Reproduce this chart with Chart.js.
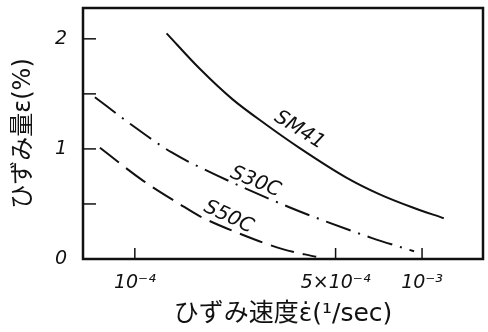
<!DOCTYPE html>
<html>
<head>
<meta charset="utf-8">
<script src="https://cdn.jsdelivr.net/npm/chart.js@4/dist/chart.umd.min.js"></script>
<style>
  html, body { margin: 0; padding: 0; background: #fff; }
  #wrap { width: 488px; height: 332px; }
</style>
</head>
<body>
<div id="wrap"><canvas id="c" width="488" height="332"></canvas></div>
<script>
// strain rate (1/sec) and strain (%) for each steel
const sm41Rate   = [1.29e-4, 1.68e-4, 2.19e-4, 2.87e-4, 3.74e-4, 5.45e-4, 7.09e-4, 9.23e-4, 1.19e-3];
const sm41Strain = [2.05, 1.73, 1.45, 1.22, 1.01, 0.74, 0.59, 0.47, 0.37];

const s30cRate   = [7.26e-5, 9.61e-5, 1.34e-4, 1.93e-4, 3.45e-4, 4.64e-4, 6.70e-4, 9.38e-4];
const s30cStrain = [1.47, 1.23, 0.97, 0.76, 0.47, 0.34, 0.19, 0.07];

const s50cRate   = [7.56e-5, 1.07e-4, 1.43e-4, 1.68e-4, 2.32e-4, 3.27e-4, 4.28e-4];
const s50cStrain = [1.01, 0.71, 0.50, 0.39, 0.23, 0.09, 0.02];

const seriesNames = ['SM41', 'S30C', 'S50C'];

const xTickValues = [1e-4, 5e-4, 1e-3];
const xTickLabels = ['10⁻⁴', '5×10⁻⁴', '10⁻³'];
const yTickLabels = {0: '0', 1: '1', 2: '2'};

// where each curve name sits, in data units, and its slant
const nameAt = [
  { x: 3.74e-4, y: 1.17, angle: 32 },
  { x: 2.63e-4, y: 0.70, angle: 22 },
  { x: 2.12e-4, y: 0.38, angle: 25 }
];

const toPoints = (xs, ys) => xs.map((x, i) => ({ x: x, y: ys[i] }));

const ink = '#111';
const handFont = 'italic 400 20px "DejaVu Sans", sans-serif';

// box frame, inward tick marks and curve names
const decorate = {
  id: 'decorate',
  afterDraw(chart) {
    const ctx = chart.ctx;
    const a = chart.chartArea;
    const xs = chart.scales.x, ys = chart.scales.y;
    ctx.save();
    ctx.strokeStyle = ink;
    ctx.lineWidth = 2.5;
    ctx.strokeRect(a.left, a.top, a.right - a.left, a.bottom - a.top);

    ctx.lineWidth = 1.5;
    ys.ticks.forEach(t => {
      if (t.value <= 0) return;
      const py = ys.getPixelForValue(t.value);
      ctx.beginPath();
      ctx.moveTo(a.left, py);
      ctx.lineTo(a.left + 13, py);
      ctx.stroke();
    });
    xs.ticks.forEach(t => {
      const px = xs.getPixelForValue(t.value);
      ctx.beginPath();
      ctx.moveTo(px, a.bottom);
      ctx.lineTo(px, a.bottom - 11);
      ctx.stroke();
    });

    ctx.fillStyle = ink;
    ctx.font = handFont;
    ctx.textAlign = 'center';
    ctx.textBaseline = 'middle';
    nameAt.forEach((n, i) => {
      const px = xs.getPixelForValue(n.x);
      const py = ys.getPixelForValue(n.y);
      ctx.save();
      ctx.translate(px, py);
      ctx.rotate(n.angle * Math.PI / 180);
      ctx.fillText(seriesNames[i], 0, 0);
      ctx.restore();
    });
    ctx.restore();
  }
};

const common = {
  borderColor: ink,
  borderWidth: 2,
  pointRadius: 0,
  fill: false,
  cubicInterpolationMode: 'monotone'
};

new Chart(document.getElementById('c'), {
  type: 'line',
  data: {
    datasets: [
      Object.assign({ label: seriesNames[0], data: toPoints(sm41Rate, sm41Strain) }, common),
      Object.assign({ label: seriesNames[1], data: toPoints(s30cRate, s30cStrain), borderDash: [26, 8, 2, 8] }, common),
      Object.assign({ label: seriesNames[2], data: toPoints(s50cRate, s50cStrain), borderDash: [24, 9] }, common)
    ]
  },
  options: {
    responsive: false,
    animation: false,
    layout: { padding: { top: 8, right: 5, left: 0, bottom: 0 } },
    plugins: { legend: { display: false }, tooltip: { enabled: false } },
    scales: {
      x: {
        type: 'logarithmic',
        min: 6.6e-5,
        max: 1.63e-3,
        border: { display: false },
        grid: { display: false, drawTicks: false },
        afterBuildTicks(scale) {
          scale.ticks = xTickValues.map(v => ({ value: v }));
        },
        afterFit(scale) {
          scale.height = 73;
          scale.paddingLeft = 0;
          scale.paddingRight = 0;
        },
        ticks: {
          autoSkip: false,
          maxRotation: 0,
          padding: 13,
          color: ink,
          font: { family: '"DejaVu Sans", sans-serif', size: 19, style: 'italic' },
          callback: (v, i) => xTickLabels[i]
        },
        title: {
          display: true,
          text: 'ひずみ速度ε̇(¹/sec)',
          color: ink,
          font: { family: '"DejaVu Sans", "Noto Sans CJK JP", sans-serif', size: 25 },
          padding: { top: 0, bottom: 3 }
        }
      },
      y: {
        min: 0,
        max: 2.28,
        border: { display: false },
        grid: { display: false, drawTicks: false },
        afterBuildTicks(scale) {
          scale.ticks = [0, 0.5, 1, 1.5, 2].map(v => ({ value: v }));
        },
        afterFit(scale) {
          scale.width = 83;
          scale.paddingTop = 0;
          scale.paddingBottom = 0;
        },
        ticks: {
          padding: 16,
          color: ink,
          font: { family: '"DejaVu Sans", sans-serif', size: 19, style: 'italic' },
          callback: v => (yTickLabels[v] !== undefined ? yTickLabels[v] : '')
        },
        title: {
          display: true,
          text: 'ひずみ量ε(%)',
          color: ink,
          font: { family: '"DejaVu Sans", "Noto Sans CJK JP", sans-serif', size: 24 },
          padding: { top: 9, bottom: 0 }
        }
      }
    }
  },
  plugins: [decorate]
});
</script>
</body>
</html>
